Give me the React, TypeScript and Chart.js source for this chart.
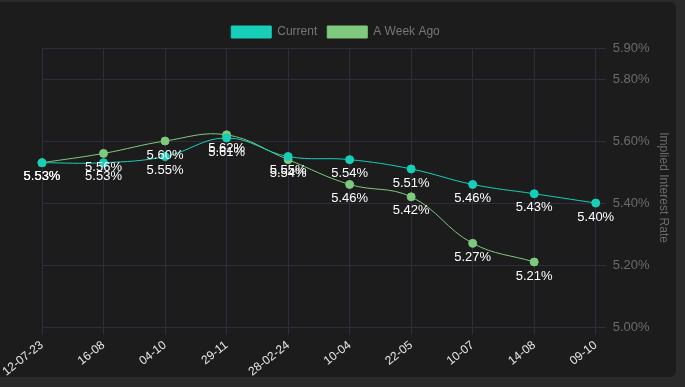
import React, { useEffect, useRef } from "react";
import { Chart, registerables } from "chart.js";

Chart.register(...registerables);

const labels = ["12-07-23", "16-08", "04-10", "29-11", "28-02-24", "10-04", "22-05", "10-07", "14-08", "09-10"];
const currentValues = [5.53, 5.53, 5.55, 5.61, 5.55, 5.54, 5.51, 5.46, 5.43, 5.40];
const weekAgoValues: (number | null)[] = [5.53, 5.56, 5.60, 5.62, 5.54, 5.46, 5.42, 5.27, 5.21, null];
const yTicks = [5.0, 5.2, 5.4, 5.6, 5.8, 5.9];

const labelPlugin = {
  id: "pointLabels",
  afterDatasetsDraw(chart: any) {
    const ctx = chart.ctx;
    ctx.save();
    ctx.font = "13px 'Liberation Sans', Arial, sans-serif";
    ctx.fillStyle = "#ffffff";
    ctx.textAlign = "center";
    ctx.textBaseline = "middle";
    for (let d = chart.data.datasets.length - 1; d >= 0; d--) {
      const meta = chart.getDatasetMeta(d);
      const ds = chart.data.datasets[d];
      meta.data.forEach((pt: any, i: number) => {
        const v = ds.data[i];
        if (v === null || v === undefined) return;
        ctx.fillText(v.toFixed(2) + "%", pt.x, pt.y + 14);
      });
    }
    ctx.restore();
  },
};

const legendShift = {
  id: "legendShift",
  afterLayout(chart: any) {
    if (chart.legend) {
      chart.legend.left -= 25;
      chart.legend.right -= 25;
    }
  },
};

export default function App() {
  const ref = useRef<HTMLCanvasElement>(null);
  useEffect(() => {
    document.body.style.margin = "0";
    document.body.style.background = "#2a2a2a";
    const chart = new Chart(ref.current!, {
      type: "line",
      data: {
        labels,
        datasets: [
          {
            label: "Current",
            data: currentValues,
            borderColor: "#17cfb9",
            backgroundColor: "#17cfb9",
            borderWidth: 1,
            pointRadius: 4,
            pointBorderWidth: 1,
            tension: 0.4,
          },
          {
            label: "A Week Ago",
            data: weekAgoValues,
            borderColor: "#7fc97f",
            backgroundColor: "#7fc97f",
            borderWidth: 1,
            pointRadius: 4,
            pointBorderWidth: 1,
            tension: 0.4,
          },
        ],
      },
      options: {
        animation: false,
        responsive: true,
        maintainAspectRatio: false,
        layout: { padding: { top: 16, right: 6, left: 42, bottom: 5 } },
        plugins: {
          legend: {
            labels: {
              color: "#777777",
              font: { size: 12 },
              boxWidth: 40,
              boxHeight: 12,
            },
          },
          tooltip: { enabled: false },
        },
        scales: {
          x: {
            grid: { color: "#2e2c3d", tickLength: 8 },
            border: { color: "#2e2c3d" },
            ticks: { color: "#e6e6e6", font: { size: 12 }, maxRotation: 38, minRotation: 38 },
          },
          y: {
            position: "right",
            min: 5.0,
            max: 5.9,
            afterBuildTicks: (axis: any) => {
              axis.ticks = yTicks.map((v) => ({ value: v }));
            },
            grid: { color: "#2e2c3d", tickLength: 10 },
            border: { color: "#2e2c3d" },
            ticks: {
              color: "#6b6b6b",
              font: { size: 13 },
              padding: 7,
              callback: (v: any) => Number(v).toFixed(2) + "%",
            },
            title: {
              display: true,
              text: "Implied Interest Rate",
              color: "#6b6b6b",
              font: { size: 12 },
              padding: { top: 8, bottom: 0 },
            },
          },
        },
      },
      plugins: [labelPlugin, legendShift],
    });
    return () => chart.destroy();
  }, []);
  return (
    <div style={{ position: "relative", width: 685, height: 387, background: "#2a2a2a", overflow: "hidden" }}>
      <div style={{ position: "absolute", left: -10, top: 2, width: 686, height: 375, background: "#1c1c1c", borderRadius: 6 }} />
      <div style={{ position: "absolute", left: 0, top: 0, width: 685, height: 387 }}>
        <canvas ref={ref} />
      </div>
    </div>
  );
}
